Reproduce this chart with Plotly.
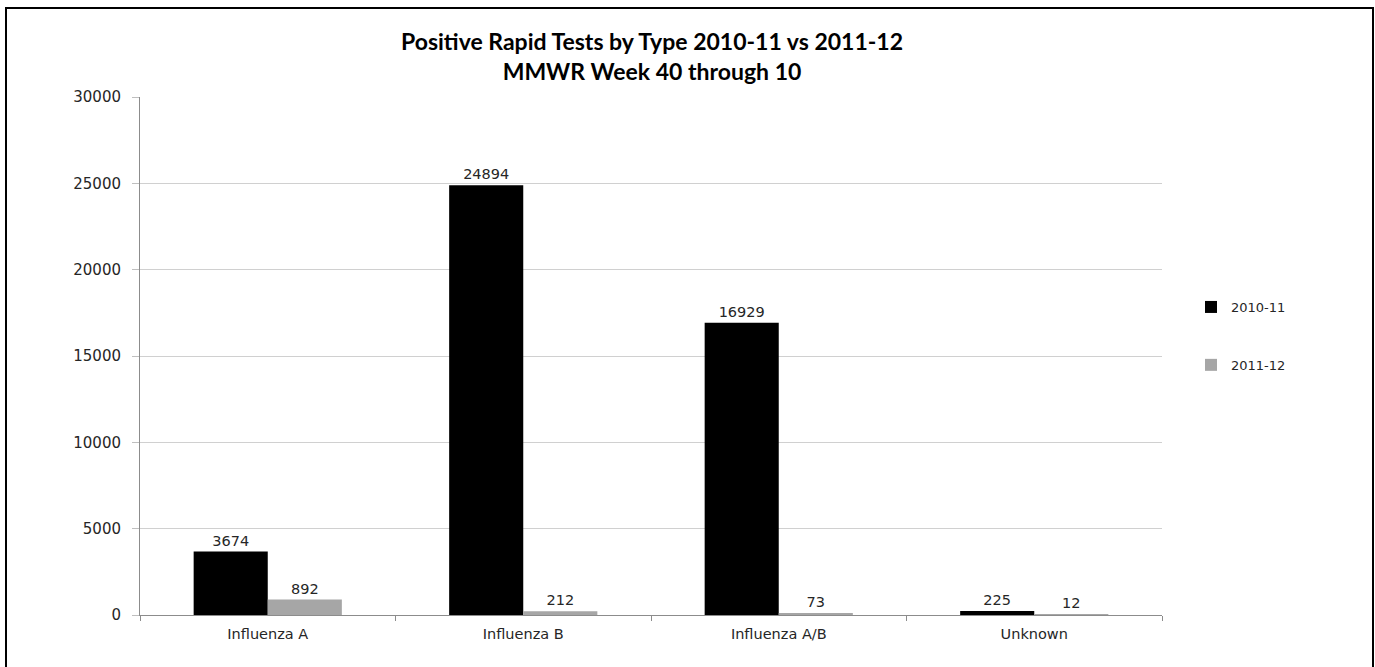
import plotly.graph_objects as go

categories = ["Influenza A", "Influenza B", "Influenza A/B", "Unknown"]
season_2010_11 = [3674, 24894, 16929, 225]
season_2011_12 = [892, 212, 73, 12]
series_names = ["2010-11", "2011-12"]
y_ticks = [0, 5000, 10000, 15000, 20000, 25000, 30000]

W, H = 1375, 667
L, R, T, B = 140, 213, 97, 52
pw, ph = W - L - R, H - T - B

LABEL_FONT = dict(family="DejaVu Sans", size=14.5, color="#262626")

fig = go.Figure()
fig.add_trace(go.Bar(
    x=categories, y=season_2010_11, name=series_names[0],
    marker=dict(color="#000000", line=dict(width=0)),
    text=[str(v) for v in season_2010_11], textposition="outside",
    textfont=LABEL_FONT, cliponaxis=False, legendgroup="a",
))
fig.add_trace(go.Bar(
    x=categories, y=season_2011_12, name=series_names[1],
    marker=dict(color="#a6a6a6", line=dict(width=0)),
    text=[str(v) for v in season_2011_12], textposition="outside",
    textfont=LABEL_FONT, cliponaxis=False, legendgroup="b",
))

def px_x(x):
    return (x - L) / pw

def px_y(y):
    return (H - B - y) / ph

fig.update_layout(
    width=W, height=H,
    margin=dict(l=L, r=R, t=T, b=B),
    paper_bgcolor="white", plot_bgcolor="white",
    barmode="group", bargap=0.42, bargroupgap=0,
    title=dict(
        text="<b>Positive Rapid Tests by Type 2010-11 vs 2011-12<br>MMWR Week 40 through 10</b>",
        x=652 / W, xanchor="center", y=1 - 50 / H, yanchor="top",
        xref="container", yref="container",
        font=dict(family="Lato", size=23, color="#000000"),
    ),
    font=dict(family="DejaVu Sans", size=13, color="#262626"),
    showlegend=True,
    legend=dict(
        x=1 + (1191 - (L + pw)) / pw, xanchor="left",
        y=px_y(292), yanchor="top",
        font=dict(family="DejaVu Sans", size=13, color="#262626"),
        traceorder="grouped", tracegroupgap=38,
        itemwidth=30, bgcolor="rgba(0,0,0,0)",
    ),
    xaxis=dict(
        type="category", showline=True, linecolor="#8c8c8c", linewidth=1,
        ticks="outside", tickson="boundaries", ticklen=5, tickcolor="#8c8c8c",
        showgrid=False, tickfont=dict(family="DejaVu Sans", size=14.5, color="#262626"),
        ticklabelstandoff=6,
    ),
    yaxis=dict(
        range=[0, 30000], tickvals=y_ticks, ticktext=[str(v) for v in y_ticks],
        showline=True, linecolor="#8c8c8c", linewidth=1,
        ticks="outside", ticklen=7, tickcolor="#bfbfbf",
        showgrid=True, gridcolor="#d0d0d0", gridwidth=1,
        zeroline=False,
        tickfont=dict(family="DejaVu Sans", size=15, color="#262626"),
        ticklabelstandoff=8,
    ),
    shapes=[dict(
        type="rect", xref="paper", yref="paper",
        x0=px_x(6), x1=px_x(1373), y0=px_y(680), y1=px_y(8),
        line=dict(color="#000000", width=2), fillcolor="rgba(0,0,0,0)",
        layer="above",
    )],
)

fig.write_html("out.html")
